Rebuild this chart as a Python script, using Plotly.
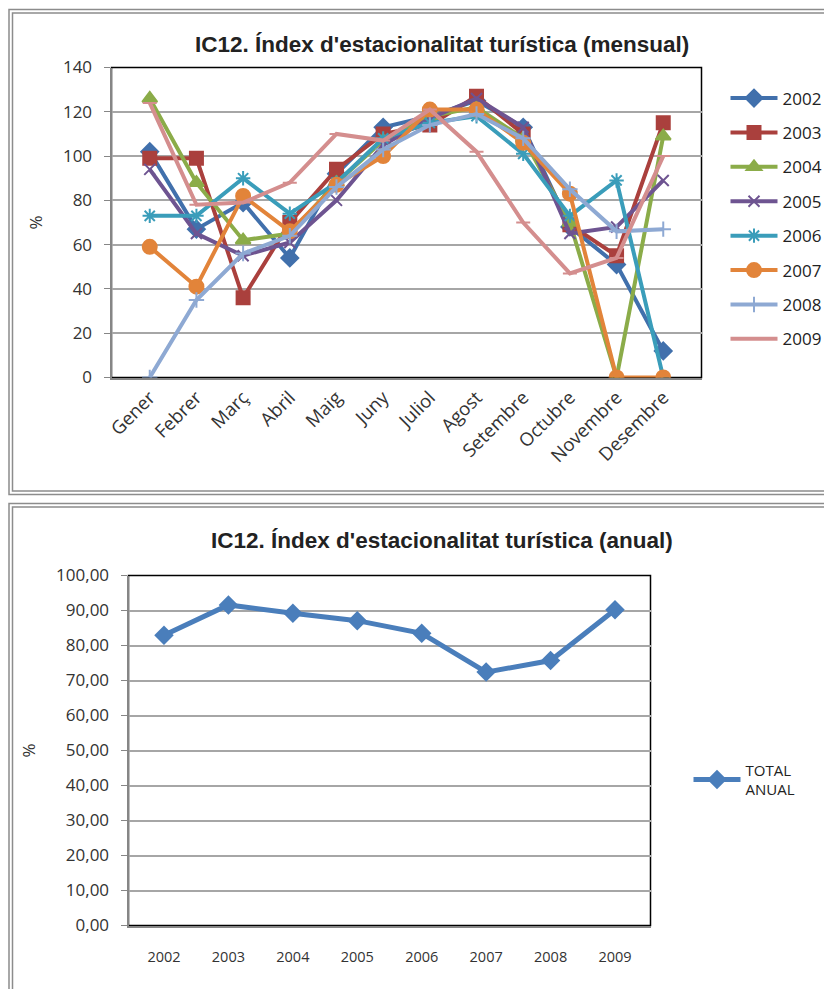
import plotly.graph_objects as go

# monthly seasonality index, one list per year
months = ['Gener', 'Febrer', 'Març', 'Abril', 'Maig', 'Juny', 'Juliol',
          'Agost', 'Setembre', 'Octubre', 'Novembre', 'Desembre']
y2002 = [102, 67, 79, 54, 92, 113, 118, 125, 113, 68, 51, 12]
y2003 = [99, 99, 36, 70, 94, 110, 114, 127, 110, 69, 55, 115]
y2004 = [126, 88, 62, 65, 88, 107, 118, 122, 108, 70, 0, 109]
y2005 = [94, 65, 55, 61, 80, 105, 117, 126, 113, 65, 68, 89]
y2006 = [73, 73, 90, 74, 88, 108, 115, 118, 101, 73, 89, 0]
y2007 = [59, 41, 82, 66, 87, 100, 121, 121, 106, 83, 0, 0]
y2008 = [0, 35, 56, 64, 86, 103, 114, 119, 108, 85, 66, 67]
y2009 = [124, 78, 79, 88, 110, 107, 121, 102, 70, 47, 54, 100]

# annual totals
years = ['2002', '2003', '2004', '2005', '2006', '2007', '2008', '2009']
total_anual = [82.9, 91.6, 89.2, 87.1, 83.5, 72.4, 75.7, 90.2]

series = [
    ('2002', y2002, '#4170AC', 'diamond', 13),
    ('2003', y2003, '#AA403D', 'square', 13),
    ('2004', y2004, '#8BAC49', 'triangle-up', 13),
    ('2005', y2005, '#6E5491', 'x-thin', 11),
    ('2006', y2006, '#3A9DBA', 'asterisk', 12),
    ('2007', y2007, '#E2843A', 'circle', 14),
    ('2008', y2008, '#8EA9D3', 'cross-thin', 11),
    ('2009', y2009, '#D48E8E', 'line-ew', 10),
]

FONT = 'Open Sans, DejaVu Sans, sans-serif'
TITLE_FONT = 'Liberation Sans, Arial, sans-serif'
W, H = 832, 989
OFF = 7.5  # page body margin

def px(x):
    return (x - OFF) / W

def py(y):
    return 1 - (y - OFF) / H

fig = go.Figure()

for name, vals, color, sym, size in series:
    fig.add_trace(go.Scatter(x=months, y=vals, name=name, mode='lines+markers',
                             line={'color': color, 'width': 4},
                             marker={'symbol': sym, 'size': size, 'color': color,
                                     'line': {'color': color, 'width': 2}},
                             legendgroup=name, xaxis='x', yaxis='y'))

fig.add_trace(go.Scatter(x=years, y=total_anual, name='TOTAL<br>ANUAL',
                         mode='lines+markers',
                         line={'color': '#4A7EBB', 'width': 5},
                         marker={'symbol': 'diamond', 'size': 15, 'color': '#4A7EBB'},
                         xaxis='x2', yaxis='y2', legend='legend2'))

grid = '#A6A6A6'
axisline = '#868686'
ytickfont = {'family': FONT, 'size': 17, 'color': '#333333'}
monthfont = {'family': FONT, 'size': 18.5, 'color': '#333333'}
yearfont = {'family': FONT, 'size': 14.5, 'color': '#333333'}
titlefont = {'family': FONT, 'size': 17, 'color': '#333333'}

fig.update_layout(
    width=W, height=H,
    margin={'l': 0, 'r': 0, 't': 0, 'b': 0, 'pad': 0, 'autoexpand': False},
    paper_bgcolor='white', plot_bgcolor='white', showlegend=True,
    xaxis=dict(domain=[px(111), px(701)], anchor='y', tickangle=-45,
               tickfont=monthfont, showline=True, linecolor=axisline, linewidth=2,
               showgrid=False, fixedrange=True, automargin=False),
    yaxis=dict(domain=[py(377), py(67)], anchor='x', range=[0, 140], dtick=20,
               tickfont=ytickfont, showgrid=True, gridcolor=grid, gridwidth=1.5,
               showline=True, linecolor=axisline, linewidth=2, ticks='outside',
               ticklen=6, tickcolor=axisline, zeroline=False, automargin=False,
               ticklabelstandoff=8,
               title={'text': '%', 'font': titlefont, 'standoff': 16}),
    xaxis2=dict(domain=[px(128), px(650)], anchor='y2', tickfont=yearfont,
                showline=True, linecolor=axisline, linewidth=2, showgrid=False,
                ticks='', ticklabelstandoff=17, automargin=False),
    yaxis2=dict(domain=[py(925), py(575)], anchor='x2', range=[0, 100],
                tickvals=[v * 10 for v in range(11)],
                ticktext=[f'{v * 10:.2f}'.replace('.', ',') for v in range(11)],
                tickfont=ytickfont, showgrid=True, gridcolor=grid, gridwidth=1.5,
                showline=True, linecolor=axisline, linewidth=2, ticks='outside',
                ticklen=6, tickcolor=axisline, zeroline=False, automargin=False,
                ticklabelstandoff=8,
                title={'text': '%', 'font': titlefont, 'standoff': 16}),
    legend=dict(x=px(725), y=py(80), xanchor='left', yanchor='top',
                font={'family': FONT, 'size': 17, 'color': '#222222'},
                traceorder='grouped', tracegroupgap=9.3, itemwidth=47,
                bgcolor='rgba(0,0,0,0)'),
    legend2=dict(x=px(688), y=py(753), xanchor='left', yanchor='top',
                 font={'family': FONT, 'size': 15, 'color': '#222222'},
                 itemwidth=47, bgcolor='rgba(0,0,0,0)'),
)

# plot area borders (black top/right like the original)
for x0, x1, y0, y1 in [(111, 701, 377, 67), (128, 650, 925, 575)]:
    fig.add_shape(type='rect', xref='paper', yref='paper',
                  x0=px(x0), x1=px(x1), y0=py(y0), y1=py(y1),
                  line={'color': 'black', 'width': 1.5}, layer='below')

# double outer frames of each chart
for top, bottom in [(9, 494), (503, 1010)]:
    for inset in (0, 3.5):
        fig.add_shape(type='rect', xref='paper', yref='paper',
                      x0=px(8.5 + inset), x1=px(850), y0=py(bottom - inset), y1=py(top + inset),
                      line={'color': '#8C8C8C', 'width': 1.5})

fig.add_annotation(text="<b>IC12. Índex d'estacionalitat turística (mensual)</b>",
                   xref='paper', yref='paper', x=px(442), y=py(44), showarrow=False,
                   xanchor='center', yanchor='middle',
                   font={'family': TITLE_FONT, 'size': 22.5, 'color': '#222222'})
fig.add_annotation(text="<b>IC12. Índex d'estacionalitat turística (anual)</b>",
                   xref='paper', yref='paper', x=px(442), y=py(540), showarrow=False,
                   xanchor='center', yanchor='middle',
                   font={'family': TITLE_FONT, 'size': 22.5, 'color': '#222222'})

fig.write_html("out.html")
